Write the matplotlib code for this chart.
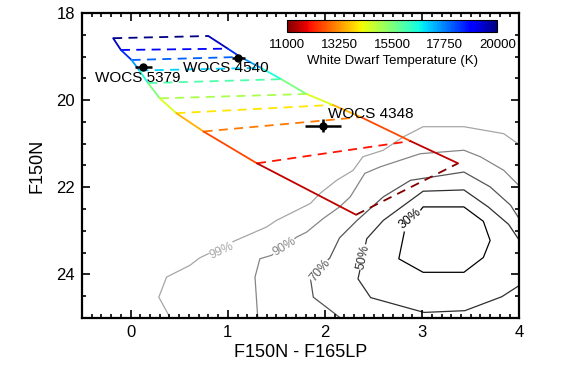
import numpy as np
import matplotlib
matplotlib.use('Agg')
import matplotlib.pyplot as plt
from matplotlib.collections import LineCollection
from matplotlib.colors import Normalize
from matplotlib.cm import ScalarMappable

plt.rcParams['font.family'] = ['Liberation Sans', 'DejaVu Sans']

# white dwarf model grid: temperature nodes on the two boundary tracks
teff = [20000, 19000, 18000, 17000, 16000, 15000, 14000, 13000, 12000, 11000]
left_x = [-0.18, -0.10, 0.01, 0.09, 0.18, 0.30, 0.47, 0.75, 1.30, 2.32]
left_y = [18.58, 18.85, 19.08, 19.32, 19.61, 19.96, 20.30, 20.72, 21.45, 22.63]
right_x = [0.80, 1.00, 1.13, 1.34, 1.55, 1.81, 2.08, 2.37, 2.88, 3.37]
right_y = [18.53, 18.82, 19.01, 19.26, 19.52, 19.86, 20.11, 20.39, 20.94, 21.45]

# observed stars
star_names = ['WOCS 5379', 'WOCS 4540', 'WOCS 4348']
star_x = [0.13, 1.11, 1.98]
star_y = [19.25, 19.04, 20.59]
star_xerr = [0.09, 0.07, 0.19]
star_yerr = [0.05, 0.05, 0.15]

# completeness contours
c99_x = [0.42, 0.29, 0.37, 0.61, 0.71, 1.07, 1.40, 1.50, 1.85, 1.95, 2.12, 2.29, 2.39, 2.60, 2.81, 3.01, 3.43, 3.84, 4.05]
c99_y = [25.05, 24.52, 24.06, 23.79, 23.62, 23.23, 22.91, 22.76, 22.37, 22.14, 21.84, 21.61, 21.30, 21.15, 20.84, 20.61, 20.61, 20.77, 21.10]
c90_x = [1.31, 1.28, 1.33, 1.45, 1.71, 1.81, 1.98, 2.15, 2.26, 2.41, 2.57, 2.98, 3.43, 3.60, 3.84, 4.05]
c90_y = [25.05, 24.06, 23.64, 23.56, 23.14, 23.03, 22.72, 22.45, 22.22, 21.68, 21.53, 21.23, 21.15, 21.30, 21.61, 22.08]
c70_x = [2.19, 1.88, 1.85, 2.05, 2.15, 2.33, 2.60, 2.88, 3.43, 3.70, 3.91, 4.05]
c70_y = [25.05, 24.52, 24.08, 23.62, 23.16, 22.76, 22.22, 21.84, 21.65, 21.99, 22.41, 22.90]
c50_x = [4.05, 3.82, 3.44, 3.02, 2.47, 2.34, 2.39, 2.43, 2.60, 3.01, 3.43, 3.68, 3.89, 4.05]
c50_y = [24.18, 24.51, 24.83, 24.87, 24.53, 24.10, 23.60, 23.18, 22.76, 22.09, 22.06, 22.45, 22.85, 23.38]
c30_x = [2.82, 3.01, 3.43, 3.63, 3.70, 3.63, 3.43, 3.01, 2.76, 2.82]
c30_y = [22.99, 22.45, 22.45, 22.78, 23.22, 23.61, 23.95, 23.95, 23.64, 22.99]
contour_labels = ['99%', '90%', '70%', '50%', '30%']

fig = plt.figure(figsize=(5.62, 3.69), dpi=100)
ax = fig.add_axes([0.146, 0.138, 0.778, 0.827])

cmap = plt.get_cmap('jet_r')
norm = Normalize(11000, 20000)

# contours
cont = [(c99_x, c99_y, '#a6a6a6'), (c90_x, c90_y, '#858585'),
        (c70_x, c70_y, '#555555'), (c50_x, c50_y, '#2e2e2e'),
        (c30_x, c30_y, '#000000')]
for cx, cy, col in cont:
    ax.plot(cx, cy, color=col, lw=0.9, zorder=1)
lab_pos = [(0.94, 23.45, 25), (1.58, 23.37, 32), (1.95, 23.91, 50),
           (2.39, 23.60, 78), (2.88, 22.72, 40)]
for (lx, ly, rot), txt, (_, _, col) in zip(lab_pos, contour_labels, cont):
    ax.text(lx, ly, txt, color=col, fontsize=9, rotation=rot,
            ha='center', va='center', rotation_mode='anchor', zorder=2,
            bbox=dict(facecolor='white', edgecolor='none', pad=0.3))

# dashed isotherms
for i, t in enumerate(teff):
    ax.plot([left_x[i], right_x[i]], [left_y[i], right_y[i]],
            color=cmap(norm(t)), lw=1.3, ls=(0, (5, 3.5)), zorder=3)

# solid boundaries colored by temperature
tmid = [(teff[i] + teff[i + 1]) / 2 for i in range(len(teff) - 1)]
for bx, by in [(left_x, left_y), (right_x, right_y)]:
    segs = [[(bx[i], by[i]), (bx[i + 1], by[i + 1])] for i in range(len(bx) - 1)]
    lc = LineCollection(segs, colors=[cmap(norm(t)) for t in tmid], lw=1.3,
                        zorder=3, capstyle='round')
    ax.add_collection(lc)

# stars
ax.errorbar(star_x, star_y, xerr=star_xerr, yerr=star_yerr, fmt='o',
            color='black', ms=5, elinewidth=1.8, capsize=0, zorder=5)
name_pos = [(-0.37, 19.50), (0.54, 19.27), (2.03, 20.31)]
for (nx, ny), name in zip(name_pos, star_names):
    ax.text(nx, ny, name, fontsize=11, ha='left', va='center', zorder=6)

ax.set_xlim(-0.5, 4)
ax.set_ylim(25, 18)
ax.set_xticks([0, 1, 2, 3, 4])
ax.set_yticks([18, 20, 22, 24])
ax.set_xticks(np.arange(-0.5, 4.01, 0.1), minor=True)
ax.set_yticks(np.arange(18, 25.01, 0.5), minor=True)
ax.tick_params(which='both', direction='in', top=True, right=True,
               width=1.2, labelsize=12)
ax.tick_params(which='major', length=6, pad=5)
ax.tick_params(which='minor', length=3)
for s in ax.spines.values():
    s.set_linewidth(1.6)
ax.set_xlabel('F150N - F165LP', fontsize=13, labelpad=3)
ax.set_ylabel('F150N', fontsize=13, labelpad=8)

# colorbar
cax = fig.add_axes([0.511, 0.913, 0.374, 0.033])
sm = ScalarMappable(norm=norm, cmap=cmap)
cb = fig.colorbar(sm, cax=cax, orientation='horizontal',
                  ticks=[11000, 13250, 15500, 17750, 20000])
cb.ax.tick_params(length=0, labelsize=9.5, pad=5)
cb.outline.set_linewidth(0.8)
cb.set_label('White Dwarf Temperature (K)', fontsize=9.5, labelpad=3)

fig.savefig('out.png', dpi=100)
